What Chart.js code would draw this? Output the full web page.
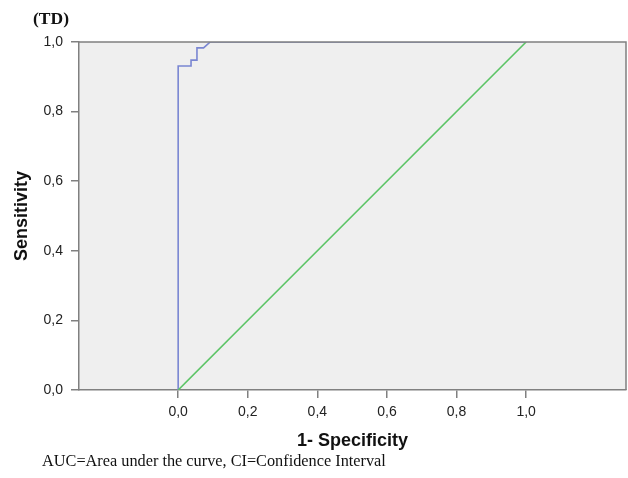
<!DOCTYPE html>
<html>
<head>
<meta charset="utf-8">
<script src="https://cdn.jsdelivr.net/npm/chart.js@4/dist/chart.umd.min.js"></script>
<style>
  html, body { margin: 0; padding: 0; background: #ffffff; }
  #wrap { position: relative; width: 628px; height: 478px; }
  #c { position: absolute; left: 0; top: 0; }
  .lbl { position: absolute; font-family: "Liberation Serif", "Times New Roman", serif; color: #111; white-space: nowrap; }
  #ttl { left: 33px; top: 8px; font-size: 17.5px; font-weight: bold; }
  #foot { left: 42px; top: 451px; font-size: 16.3px; }
</style>
</head>
<body>
<div id="wrap">
  <canvas id="c" width="628" height="478"></canvas>
  <div class="lbl" id="ttl">(TD)</div>
  <div class="lbl" id="foot">AUC=Area under the curve, CI=Confidence Interval</div>
</div>
<script>
const rocFpr = [0.0, 0.0, 0.037, 0.037, 0.054, 0.054, 0.073, 0.092, 1.0];
const rocTpr = [0.0, 0.931, 0.931, 0.948, 0.948, 0.983, 0.983, 1.0, 1.0];
const refFpr = [0.0, 1.0];
const refTpr = [0.0, 1.0];
const tickValues = [0.0, 0.2, 0.4, 0.6, 0.8, 1.0];
const fmt = v => v.toFixed(1).replace('.', ',');

const bgPlugin = {
  id: 'plotBg',
  beforeDraw(chart) {
    const a = chart.chartArea, ctx = chart.ctx;
    ctx.save();
    ctx.fillStyle = '#efefef';
    ctx.fillRect(a.left, a.top, a.right - a.left, a.bottom - a.top);
    ctx.restore();
  },
  afterDraw(chart) {
    const a = chart.chartArea, ctx = chart.ctx;
    ctx.save();
    ctx.strokeStyle = '#808080';
    ctx.lineWidth = 1.5;
    ctx.beginPath();
    ctx.moveTo(a.left, a.top); ctx.lineTo(a.right, a.top); ctx.lineTo(a.right, a.bottom);
    ctx.stroke();
    ctx.restore();
  }
};

new Chart(document.getElementById('c'), {
  type: 'scatter',
  data: {
    datasets: [
      {
        data: refFpr.map((x, i) => ({x, y: refTpr[i]})),
        showLine: true, borderColor: '#5cc466', borderWidth: 1.6,
        pointRadius: 0, fill: false, tension: 0
      },
      {
        data: rocFpr.map((x, i) => ({x, y: rocTpr[i]})),
        showLine: true, borderColor: '#7a86d2', borderWidth: 1.6,
        pointRadius: 0, fill: false, tension: 0
      }
    ]
  },
  plugins: [bgPlugin],
  options: {
    responsive: false,
    animation: false,
    layout: { padding: { left: 0, right: 2, top: 42, bottom: 18 } },
    plugins: { legend: { display: false }, tooltip: { enabled: false }, title: { display: false } },
    scales: {
      x: {
        type: 'linear', min: -0.285, max: 1.287,
        afterBuildTicks(s) { s.ticks = tickValues.map(v => ({value: v})); },
        afterFit(s) { s.height = 70; },
        grid: { display: true, drawOnChartArea: false, drawTicks: true, tickLength: 8, color: '#808080', lineWidth: 1.5 },
        border: { display: true, color: '#808080', width: 1.5 },
        ticks: { autoSkip: false, maxRotation: 0, padding: 6, color: '#222', font: { family: 'Liberation Sans, Arial, sans-serif', size: 14 }, callback: v => fmt(v) },
        title: { display: true, text: '1- Specificity', color: '#111', padding: { top: 0, bottom: 8 }, font: { family: 'Liberation Sans, Arial, sans-serif', size: 18, weight: 'bold' } }
      },
      y: {
        type: 'linear', min: 0, max: 1,
        afterBuildTicks(s) { s.ticks = tickValues.map(v => ({value: v})); },
        afterFit(s) { s.width = 79; },
        grid: { display: true, drawOnChartArea: false, drawTicks: true, tickLength: 8, color: '#808080', lineWidth: 1.5 },
        border: { display: true, color: '#808080', width: 1.5 },
        ticks: { autoSkip: false, padding: 8, color: '#222', font: { family: 'Liberation Sans, Arial, sans-serif', size: 14 }, callback: v => fmt(v) },
        title: { display: true, text: 'Sensitivity', color: '#111', padding: { top: 11, bottom: 0 }, font: { family: 'Liberation Sans, Arial, sans-serif', size: 18, weight: 'bold' } }
      }
    }
  }
});
</script>
</body>
</html>
